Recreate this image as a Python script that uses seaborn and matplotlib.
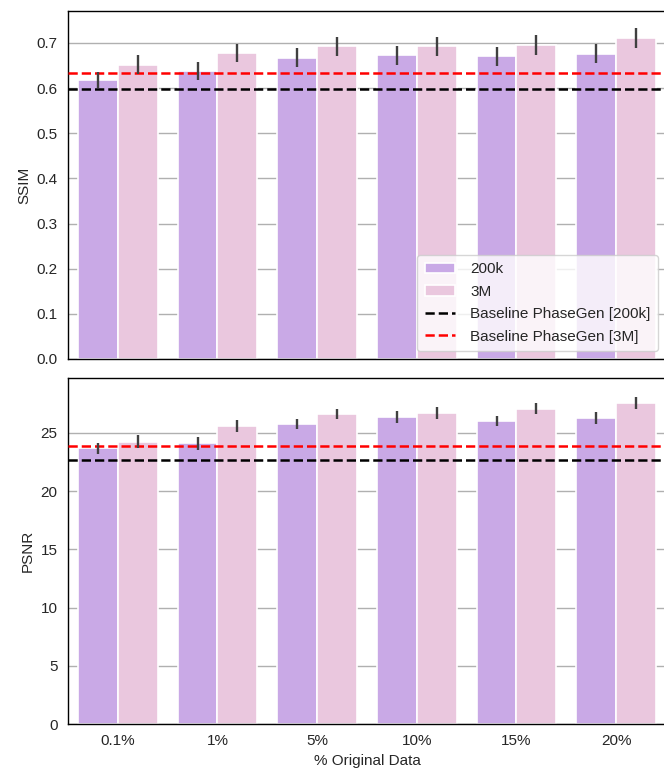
import numpy as np
import pandas as pd

import matplotlib
matplotlib.use('agg')
import matplotlib.pyplot as plt
import seaborn as sns

categories = ['0.1%', '1%', '5%', '10%', '15%', '20%']
sizes = ['200k', '3M']

ssim_200k = [0.618, 0.638, 0.667, 0.673, 0.671, 0.676]
ssim_3m = [0.652, 0.677, 0.693, 0.693, 0.696, 0.711]
ssim_err_200k = [0.018, 0.020, 0.021, 0.021, 0.021, 0.021]
ssim_err_3m = [0.021, 0.020, 0.021, 0.021, 0.022, 0.023]
ssim_base_200k = 0.598
ssim_base_3m = 0.633

psnr_200k = [23.66, 24.09, 25.77, 26.37, 26.05, 26.28]
psnr_3m = [24.23, 25.60, 26.60, 26.68, 27.05, 27.54]
psnr_err_200k = [0.50, 0.56, 0.43, 0.50, 0.43, 0.51]
psnr_err_3m = [0.57, 0.50, 0.46, 0.50, 0.47, 0.54]
psnr_base_200k = 22.66
psnr_base_3m = 23.86

colors = ['#c9a9e6', '#eac7de']


def make_frame(v200k, v3m, e200k, e3m):
    return pd.DataFrame({
        'pct': categories * 2,
        'size': ['200k'] * len(categories) + ['3M'] * len(categories),
        'value': v200k + v3m,
        'err': e200k + e3m,
    })


def draw(ax, df, base200k, base3m, ylabel, ylim, legend=False):
    sns.barplot(data=df, x='pct', y='value', hue='size', order=categories,
                hue_order=sizes, palette=colors, errorbar=None, width=0.8,
                edgecolor='white', linewidth=1.2, saturation=1, ax=ax,
                legend=legend)
    # error bars centred on the drawn bars
    for cont, size in zip(ax.containers, sizes):
        sub = df[df['size'] == size].set_index('pct').loc[categories]
        xs = [p.get_x() + p.get_width() / 2 for p in cont.patches]
        ax.errorbar(xs, sub['value'], yerr=sub['err'], fmt='none',
                    ecolor='#404040', elinewidth=1.7, capsize=0, zorder=5)
    ax.axhline(base200k, color='black', linestyle='--', linewidth=1.8,
               label='Baseline PhaseGen [200k]', zorder=4)
    ax.axhline(base3m, color='red', linestyle='--', linewidth=1.8,
               label='Baseline PhaseGen [3M]', zorder=4)
    ax.set_xlim(-0.5, 5.5)
    ax.set_ylim(*ylim)
    ax.set_ylabel(ylabel, fontsize=11)
    ax.yaxis.grid(True, color='#b0b0b0', linewidth=1)
    ax.set_axisbelow(True)
    for s in ax.spines.values():
        s.set_visible(True)
        s.set_color('black')
        s.set_linewidth(1)
    ax.tick_params(axis='both', labelsize=11, length=4, color='black')


def main():
    sns.set_style('white')
    plt.rcParams['font.family'] = ['Liberation Sans', 'DejaVu Sans']

    fig = plt.figure(figsize=(6.64, 7.70), dpi=100)
    ax1 = fig.add_axes([0.1024, 0.5338, 0.9006, 0.452])
    ax2 = fig.add_axes([0.1024, 0.0597, 0.9006, 0.4494])

    ssim = make_frame(ssim_200k, ssim_3m, ssim_err_200k, ssim_err_3m)
    psnr = make_frame(psnr_200k, psnr_3m, psnr_err_200k, psnr_err_3m)

    draw(ax1, ssim, ssim_base_200k, ssim_base_3m, 'SSIM', (0, 0.771), legend=True)
    ax1.set_xlabel('')
    ax1.set_xticklabels([])
    ax1.tick_params(axis='x', length=0)
    ax1.set_yticks(np.arange(0, 0.71, 0.1))
    ax1.set_yticklabels(['%.1f' % t for t in np.arange(0, 0.71, 0.1)])
    ax1.legend(loc='lower right', fontsize=11, framealpha=0.8,
               edgecolor='#cccccc', handlelength=2.0, handletextpad=1.0,
               labelspacing=0.55, borderpad=0.5)

    draw(ax2, psnr, psnr_base_200k, psnr_base_3m, 'PSNR', (0, 29.7))
    ax2.set_yticks([0, 5, 10, 15, 20, 25])
    ax2.set_xlabel('% Original Data', fontsize=11)

    fig.savefig('out.png', dpi=100)
    plt.close('all')


if __name__ == '__main__':
    main()
